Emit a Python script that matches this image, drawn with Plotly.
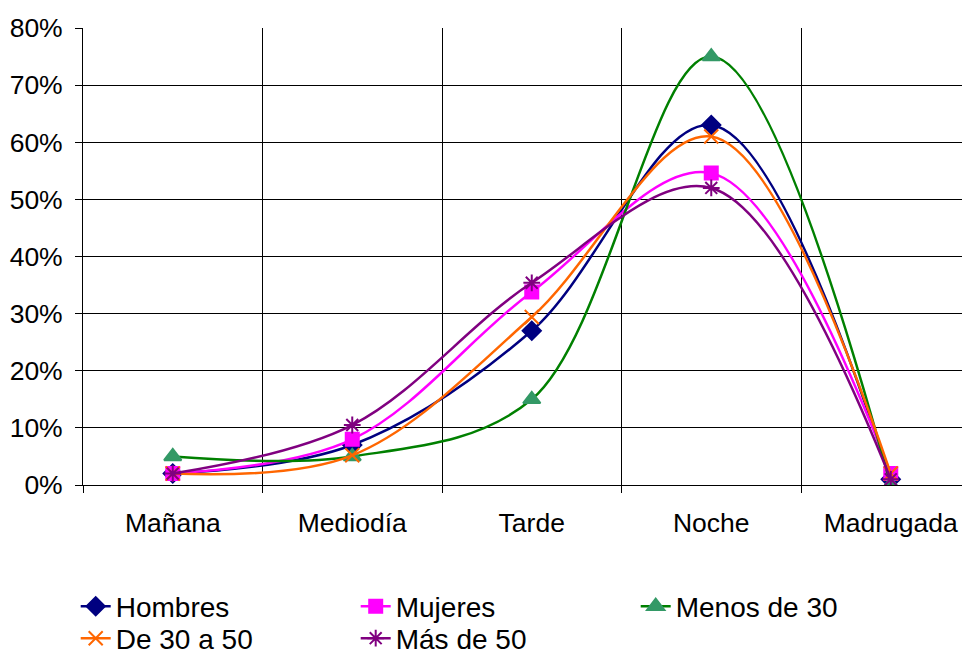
import plotly.graph_objects as go

categorias = ["Mañana", "Mediodía", "Tarde", "Noche", "Madrugada"]
hombres = [0.02, 0.07, 0.27, 0.63, 0.01]
mujeres = [0.02, 0.08, 0.338, 0.546, 0.02]
menos_30 = [0.05, 0.05, 0.15, 0.75, 0.0]
de_30_a_50 = [0.02, 0.052, 0.294, 0.61, 0.02]
mas_de_50 = [0.02, 0.105, 0.354, 0.52, 0.01]

series = [
    ("Hombres", hombres, "#000080", "#000080", "diamond", 14, "legend"),
    ("Mujeres", mujeres, "#FF00FF", "#FF00FF", "square", 13, "legend"),
    ("Menos de 30", menos_30, "#008000", "#339966", "triangle-up", 15, "legend"),
    ("De 30 a 50", de_30_a_50, "#FF6600", "#FF6600", "x-thin-open", 14, "legend2"),
    ("Más de 50", mas_de_50, "#800080", "#800080", "asterisk-open", 14, "legend2"),
]

fig = go.Figure()
for name, vals, lc, mc, sym, sz, lg in series:
    fig.add_trace(go.Scatter(
        x=categorias, y=vals, name=name, mode="lines+markers", legend=lg,
        line=dict(color=lc, width=2.5, shape="spline", smoothing=1),
        marker=dict(symbol=sym, size=sz, color=mc, line=dict(color=mc, width=2)),
    ))

legend_common = dict(
    orientation="h", xref="container", yref="container",
    x=0.0698, xanchor="left", yanchor="top",
    font=dict(size=28), entrywidth=235, entrywidthmode="pixels",
    tracegroupgap=0, bgcolor="rgba(0,0,0,0)",
)

fig.update_layout(
    width=970, height=650,
    margin=dict(l=75, r=0, t=20, b=173, autoexpand=False),
    paper_bgcolor="white", plot_bgcolor="white",
    font=dict(family="Arial, Liberation Sans, sans-serif", size=26.5, color="black"),
    showlegend=True,
    legend=dict(legend_common, y=0.1177),
    legend2=dict(legend_common, y=0.0685),
    xaxis=dict(
        type="category", range=[-0.5, 4.486], showgrid=True, gridcolor="#000000", gridwidth=1,
        ticks="outside", tickson="boundaries", ticklen=7, tickcolor="#000000",
        showline=True, linecolor="#000000", zeroline=False, tickfont=dict(size=26.5),
        ticklabelstandoff=14,
    ),
    yaxis=dict(
        range=[0, 0.8], dtick=0.1, tickformat=".0%", showgrid=True, gridcolor="#000000", gridwidth=1,
        ticks="outside", ticklen=7, tickcolor="#000000", showline=True, linecolor="#000000",
        zeroline=False, tickfont=dict(size=26.5), ticklabelstandoff=7,
    ),
)

fig.write_html("out.html")
